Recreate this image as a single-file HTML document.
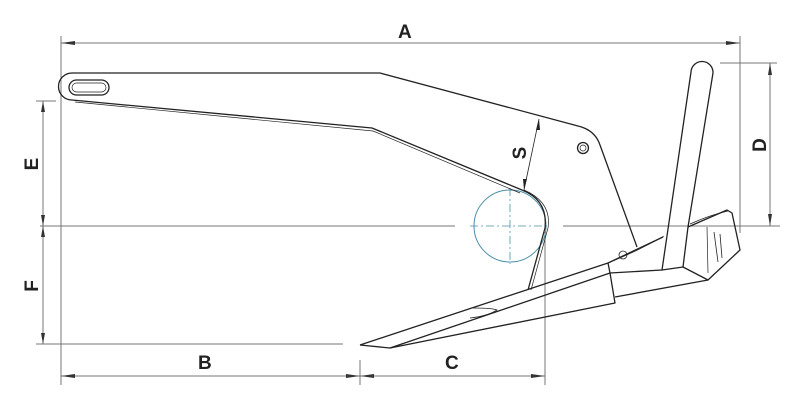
<!DOCTYPE html>
<html><head><style>body{margin:0;background:#fff}svg{display:block}text{font-family:"Liberation Sans",sans-serif;font-weight:bold;font-size:19px;fill:#222}</style></head>
<body>
<svg width="800" height="405" viewBox="0 0 800 405" xmlns="http://www.w3.org/2000/svg">
<g stroke="#777" stroke-width="1" fill="none">
<line x1="61" y1="36" x2="61" y2="385"/>
<line x1="61" y1="43" x2="740" y2="43"/>
<line x1="740" y1="36" x2="740" y2="233"/>
<line x1="40" y1="226" x2="455" y2="226"/>
<line x1="563" y1="226" x2="780" y2="226"/>
<line x1="36" y1="101" x2="56" y2="101"/>
<line x1="36" y1="344" x2="343" y2="344"/>
<line x1="43" y1="101" x2="43" y2="344"/>
<line x1="61" y1="376" x2="545" y2="376"/>
<line x1="360" y1="360" x2="360" y2="385"/>
<line x1="545" y1="232" x2="545" y2="385"/>
<line x1="720" y1="63" x2="777" y2="63"/>
<line x1="770" y1="63" x2="770" y2="226"/>
</g>
<g fill="#333">
<polygon points="61,43 75,41 75,45"/><polygon points="740,43 726,41 726,45"/>
<polygon points="43,101 41,112 45,112"/><polygon points="43,226 41,215 45,215"/>
<polygon points="43,226 41,237 45,237"/><polygon points="43,344 41,333 45,333"/>
<polygon points="61,376 75,374 75,378"/><polygon points="360,376 346,374 346,378"/>
<polygon points="360,376 374,374 374,378"/><polygon points="545,376 531,374 531,378"/>
<polygon points="770,63 768,75 772,75"/><polygon points="770,226 768,214 772,214"/>
</g>
<circle cx="510" cy="226" r="36" fill="none" stroke="#4a90a8" stroke-width="1"/>
<g stroke="#4a90a8" stroke-width="0.8" stroke-dasharray="8,3,2,3"><line x1="470" y1="226" x2="550" y2="226"/><line x1="510" y1="188" x2="510" y2="264"/></g>
<g stroke="#222" stroke-width="1.3" fill="none" stroke-linejoin="round">
<path d="M72,73 L380,73 L578,126 Q595,130 600,145 L637,247"/>
<path d="M72,73 A13.5,13.5 0 0 0 72,100 L372,128 L522,190 Q548,200 545,228 L528,290"/>
<path d="M75,102 L373,131 L520,193" stroke-width="0.7"/>
<path d="M524,190 Q552,202 548,228 L531,290" stroke-width="0.7"/>
<rect x="69" y="80" width="40" height="15" rx="7.5"/>
<rect x="72" y="83" width="34" height="9" rx="4.5" stroke-width="0.7"/>
<circle cx="583" cy="148" r="5.5"/><circle cx="583" cy="148" r="3" stroke-width="0.7"/>
<line x1="539" y1="119" x2="524" y2="190" stroke-width="0.8"/>
<polygon points="539,119 536,130 540,130" fill="#222" stroke="none"/>
<polygon points="524,190 523,179 527,179" fill="#222" stroke="none"/>
<path d="M360,345 L608,263 L663,237"/>
<path d="M360,345 L390,348 L615,303 L610,273 L608,263"/>
<path d="M390,348 L610,273 L662,270"/>
<path d="M473,308 Q492,308 497,310 Q488,316 470,318" stroke-width="0.8"/>
<path d="M615,297 L708,280"/>
<path d="M608,263 Q640,250 664,236" stroke-width="0.7"/>
<path d="M662,270 L691,72 A11,11 0 0 1 713,73 L688,227 L683,267 Z"/>
<path d="M688,227 L727,210 L732,213 L740,250 L708,280 L683,267"/>
<path d="M690,224 Q710,215 728,211" stroke-width="0.7"/>
<line x1="707" y1="227" x2="708" y2="273" stroke-width="0.7"/>
<path d="M714,232 L718,262 M720,234 L722,258" stroke-width="0.8"/>
<circle cx="623" cy="255" r="4" stroke-width="0.8"/>
</g>
<text x="398" y="38">A</text>
<text x="198" y="369">B</text>
<text x="445" y="369">C</text>
<text transform="translate(766,145) rotate(-90)" text-anchor="middle">D</text>
<text transform="translate(38,164) rotate(-90)" text-anchor="middle">E</text>
<text transform="translate(38,286) rotate(-90)" text-anchor="middle">F</text>
<text transform="translate(526,153) rotate(-90)" text-anchor="middle">S</text>
</svg>
</body></html>
